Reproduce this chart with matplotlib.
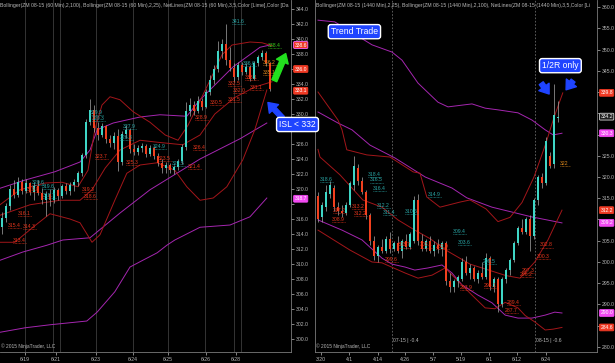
import matplotlib
matplotlib.use('Agg')
import matplotlib.pyplot as plt
from matplotlib.patches import FancyArrowPatch

plt.rcParams['font.family'] = ['Liberation Sans', 'DejaVu Sans']

# ---------------- data: left panel (ZM 08-15, 60 min) ----------------
l_open = [315.0, 316.2, 317.8, 320.0, 319.2, 321.0, 319.8, 320.8, 319.6, 320.4,
          319.5, 318.6, 319.4, 318.5, 319.9, 319.1, 320.4, 319.7, 320.5, 320.9,
          322.1, 324.5, 329.0, 330.6, 328.1, 327.2, 328.4, 326.7, 326.1, 327.1,
          323.6, 327.4, 327.9, 325.3, 325.0, 325.5, 325.8, 324.7, 325.5, 324.4,
          323.5, 322.8, 323.2, 322.5, 322.9, 323.7, 325.6, 330.4, 331.2, 330.4,
          331.8, 331.0, 332.9, 334.6, 336.0, 338.4, 339.4, 337.2, 336.2, 334.9,
          336.5, 335.6, 336.3, 334.7, 336.8, 337.6, 338.2, 336.8]
l_high = [317.0, 318.2, 320.6, 321.2, 321.6, 321.4, 321.3, 321.0, 320.9, 321.2,
          320.2, 319.8, 320.0, 320.3, 320.2, 320.7, 320.8, 320.9, 321.4, 322.4,
          324.8, 329.4, 332.0, 331.2, 328.9, 328.8, 328.6, 327.2, 327.6, 328.0,
          327.8, 328.6, 328.2, 326.0, 325.9, 326.2, 326.0, 325.9, 325.7, 324.8,
          324.0, 323.6, 323.5, 323.2, 324.0, 326.0, 331.6, 332.2, 331.7, 332.4,
          332.1, 333.4, 335.2, 336.6, 339.8, 340.0, 342.0, 339.0, 336.8, 336.9,
          337.0, 336.8, 336.5, 337.1, 337.9, 338.6, 338.4, 337.0]
l_low = [314.0, 315.6, 317.2, 318.8, 318.9, 319.4, 319.5, 319.2, 318.6, 319.2,
         318.0, 316.4, 317.8, 318.2, 318.6, 318.8, 319.3, 319.2, 319.8, 320.4,
         321.8, 324.1, 328.5, 327.6, 326.6, 326.9, 326.2, 325.6, 325.4, 322.4,
         323.2, 326.8, 324.8, 324.6, 324.5, 325.0, 324.3, 324.4, 324.0, 323.1,
         322.2, 322.1, 322.1, 322.0, 322.5, 323.4, 325.2, 329.8, 329.9, 330.1,
         330.6, 330.8, 332.5, 334.0, 335.6, 337.5, 336.6, 335.8, 334.3, 334.6,
         335.2, 335.3, 334.4, 334.5, 336.4, 337.2, 336.4, 333.1]
l_close = [316.2, 317.8, 320.0, 319.2, 321.0, 319.8, 320.8, 319.6, 320.4, 319.5,
           318.6, 319.4, 318.5, 319.9, 319.1, 320.4, 319.7, 320.5, 320.9, 322.1,
           324.5, 329.0, 330.6, 328.1, 327.2, 328.4, 326.7, 326.1, 327.1, 323.6,
           327.4, 327.9, 325.3, 325.0, 325.5, 325.8, 324.7, 325.5, 324.4, 323.5,
           322.8, 323.2, 322.5, 322.9, 323.7, 325.6, 330.4, 331.2, 330.4, 331.8,
           331.0, 332.9, 334.6, 336.0, 338.4, 339.4, 337.2, 336.2, 334.9, 336.5,
           335.6, 336.3, 334.7, 336.8, 337.6, 338.2, 336.8, 333.4]

# Bollinger bands: (bar, price) samples
l_bb25_up = [(-0.5, 317.9), (4.5, 319.9), (10.8, 320.8), (15, 320.9), (19, 320.3),
             (21.5, 322.5), (23.2, 327.9), (25, 331.2), (27, 332.3), (29.5, 331.9),
             (32.8, 330.3), (37, 328.9), (40.8, 327.2), (44, 326.5), (46.5, 328.5),
             (49, 331.2), (52, 334.5), (55, 337.9), (57.5, 339.2), (62, 339.6),
             (65, 339.5), (67.5, 339.1)]
l_bb25_mid = [(-0.5, 316.5), (7, 317.9), (14.5, 318.5), (19.5, 318.5), (22.5, 319.9),
              (25.8, 322.8), (29.5, 325.2), (34.5, 326.5), (39.5, 326.2), (45.2, 325.9),
              (49.5, 327.2), (53.2, 330.0), (58.2, 332.2), (63.2, 333.6), (67.5, 334.3)]
l_bb25_low = [(-0.5, 312.9), (3.2, 312.9), (8.2, 315.1), (12, 316.7), (17, 316.0),
              (19.5, 315.5), (22.5, 312.9), (24.5, 313.9), (28.2, 318.5), (31.2, 322.1),
              (34.5, 323.2), (38.8, 323.5), (43.2, 322.5), (46.2, 320.3), (49.5, 318.5),
              (52.8, 318.8), (56.2, 320.3), (60.2, 323.9), (63.2, 327.9), (66.2, 333.2)]
l_bb100_up = [(-0.5, 320.1), (5.8, 321.2), (13.2, 322.3), (19.5, 323.6), (22, 325.2),
              (23.8, 327.9), (27.8, 328.8), (34.5, 329.6), (39.5, 329.9), (46.2, 329.7),
              (49.5, 331.9), (57.8, 336.3), (64.5, 338.9), (67, 339.2)]
l_bb100_mid = [(-0.5, 310.5), (5.2, 311.6), (11.2, 312.5), (15.2, 313.2), (22, 313.5),
               (29.5, 316.8), (37, 319.9), (49.5, 324.0), (59.5, 326.7), (66.2, 328.8)]
l_bb100_low = [(-0.5, 300.9), (5.8, 301.5), (12, 301.9), (21.2, 302.4), (23.8, 303.6),
               (28.2, 306.3), (32, 309.6), (35.2, 310.5), (38.8, 311.5), (41.2, 312.5),
               (43.2, 313.2), (49.5, 314.9), (57, 315.2), (62, 316.3), (66.2, 318.8)]

l_ticks = [5.75, 13.5, 23.5, 32.75, 41.5, 51, 58.5]
l_ticklabels = ['6/19', '6/21', '6/23', '6/24', '6/25', '6/26', '6/28']
l_sessions = [5.75, 12.75, 14.5, 23.5, 32.75, 41.5, 50.75, 58, 59.75]
l_hidden_prices = [336, 328, 318]

# net line labels: (bar, price, text)
l_cyan_labels = [(57.5, 342.3, '341.6'), (60.2, 336.8, '336.6'), (30.2, 328.3, '327.9'),
                 (29.5, 326.9, '326.3'), (37.8, 325.7, '324.9'), (42.5, 323.4, '322.5'),
                 (7.5, 320.9, '320.6'), (10, 320.3, '319.6'), (10.2, 319.2, '318.7'),
                 (22, 330.2, '329.9'), (22.5, 329.4, '329.3')]
l_red_labels = [(23.2, 324.3, '323.7'), (48.2, 329.5, '328.9'), (56.5, 332.0, '331.5'),
                (52, 331.5, '330.5'), (56.5, 334.1, '332.5'), (57.8, 333.2, '332.0'),
                (60.8, 334.9, '333.1'), (62, 333.5, '331.1'), (31, 323.5, '325.3'),
                (39, 324.1, '323.5'), (47.8, 325.6, '326.4'), (46.5, 323.0, '321.4'),
                (20, 320.0, '319.3'), (20.5, 319.0, '318.6'), (6.2, 319.9, '319.8'),
                (4, 316.8, '316.1'), (1.5, 315.1, '315.4'), (5.2, 315.0, '314.3'),
                (2.8, 313.2, '313.4')]
l_orange_labels = [(65.2, 336.9, '336.2'), (65.2, 335.6, '335.1')]
l_lime_labels = [(66.5, 339.1, '338.4')]

# axis price markers: (price, text, fill, edge)
l_markers = [(339.2, '338.6', '#f03a24', '#ff66ff'), (336.0, '336.0', '#f03a24', '#f03a24'),
             (333.1, '333.1', '#f03a24', '#f03a24'), (318.7, '318.7', '#f24af2', '#f24af2')]

# ---------------- data: right panel (ZM 08-15, daily) ----------------
r_open = [315.5, 310.5, 313.0, 316.0, 317.5, 313.0, 312.0, 311.5, 313.5, 318.0,
          322.0, 319.0, 316.5, 311.0, 305.0, 301.5, 303.5, 302.5, 305.5, 303.0,
          304.5, 302.5, 305.0, 303.5, 305.0, 314.5, 305.0, 303.0, 305.0, 302.5,
          304.0, 303.0, 304.5, 295.5, 294.0, 295.5, 296.0, 300.0, 297.5, 298.5,
          296.0, 297.5, 296.5, 301.0, 294.0, 296.0, 290.0, 296.0, 298.0, 300.5,
          304.5, 308.0, 307.0, 310.0, 306.0, 314.5, 320.0, 318.5, 325.0, 323.0,
          334.0]
r_high = [316.5, 314.0, 318.0, 319.0, 318.0, 314.0, 313.5, 314.0, 319.0, 325.0,
          323.0, 320.0, 317.0, 311.5, 306.0, 304.0, 305.5, 306.0, 307.0, 305.0,
          306.0, 305.5, 306.5, 307.0, 315.5, 316.0, 306.5, 305.5, 306.0, 305.0,
          305.5, 305.0, 305.0, 297.5, 296.0, 297.0, 301.0, 301.5, 299.5, 299.0,
          298.0, 300.0, 302.0, 301.5, 296.5, 296.5, 296.5, 298.5, 301.0, 305.0,
          308.5, 310.0, 310.5, 311.0, 315.0, 320.5, 321.0, 329.5, 326.0, 342.0,
          338.0]
r_low = [309.5, 309.5, 312.0, 315.0, 312.0, 311.0, 310.5, 311.0, 313.0, 317.0,
         318.0, 316.0, 310.0, 304.0, 300.5, 300.0, 302.0, 302.0, 302.0, 302.5,
         302.0, 301.0, 303.0, 303.0, 304.5, 304.0, 302.5, 302.5, 302.0, 301.5,
         302.0, 301.5, 294.5, 293.0, 293.0, 294.0, 295.5, 297.0, 296.0, 295.5,
         295.0, 296.0, 296.0, 293.5, 293.0, 288.2, 289.5, 295.0, 297.0, 300.0,
         304.0, 306.5, 306.5, 302.5, 305.5, 313.5, 317.5, 318.0, 322.0, 322.0,
         333.0]
r_close = [310.0, 313.5, 316.5, 318.0, 313.0, 312.0, 311.5, 313.5, 318.5, 322.5,
           319.0, 316.5, 311.0, 305.0, 301.5, 303.5, 302.5, 305.5, 303.0, 304.5,
           302.5, 305.0, 303.5, 306.5, 314.5, 305.0, 303.0, 305.0, 302.5, 304.0,
           303.0, 304.5, 295.5, 294.0, 295.5, 296.5, 300.0, 297.5, 298.5, 296.0,
           297.5, 296.5, 301.0, 294.0, 296.0, 290.0, 296.0, 298.0, 300.5, 304.5,
           308.0, 307.0, 310.0, 306.0, 314.5, 320.0, 318.5, 328.5, 322.5, 334.5,
           334.2]

r_bb25_up = [(0, 340.0), (5, 333.4), (6, 331.1), (7.2, 326.4), (12.2, 325.2), (18, 324.7),
             (23.8, 321.2), (25.5, 320.9), (27.2, 315.3), (30.5, 312.9), (35.5, 314.1),
             (38, 314.6), (42, 312.5), (45, 309.5), (48, 310.5), (51, 314.0), (54, 320.0),
             (57, 328.0), (59, 334.0), (61.2, 339.8)]
r_bb25_mid = [(0, 326.5), (0.5, 324.7), (5.5, 320.5), (11.2, 314.6), (16, 312.9), (20, 309.9),
              (24.2, 307.5), (28, 305.5), (32.5, 302.5), (38, 299.5), (43, 298.0),
              (47, 296.8), (50.5, 296.2), (54.2, 300.0), (57.5, 305.2), (61, 312.2)]
r_bb25_low = [(0, 307.5), (8, 302.8), (13.5, 300.0), (16, 299.8), (21.8, 297.4),
              (25, 296.2), (28.5, 296.9), (31.8, 298.6), (35, 295.5), (38.5, 292.2),
              (41.8, 289.2), (44.2, 289.0), (46.8, 290.5), (50, 289.2), (51.8, 287.4),
              (54.2, 285.9), (56.8, 284.0), (58.8, 284.2), (61, 284.6)]
r_bb100_up = [(0, 356.9), (4.2, 356.5), (13.5, 351.1), (18.5, 349.4), (21, 347.5),
              (25, 342.1), (30, 337.6), (32.5, 336.5), (38.5, 337.2), (41.8, 336.2),
              (45, 335.8), (50, 335.1), (53.5, 333.4), (56.8, 331.1), (58.8, 329.9),
              (61, 330.3)]
r_bb100_mid = [(0, 335.3), (5, 332.7), (8.5, 331.1), (13, 327.5), (19.2, 324.5),
               (26.8, 320.0), (33.5, 317.4), (37.2, 315.1), (43.5, 312.9), (53.5, 310.6),
               (61, 309.2)]
r_bb100_low = [(0, 309.9), (6, 307.5), (11, 305.2), (16, 300.9), (18.5, 299.5),
               (21.8, 298.8), (24.2, 298.1), (27.5, 298.6), (31, 299.3), (33.5, 297.4),
               (36, 294.6), (40, 292.2), (43.5, 290.4), (46.8, 287.5), (50, 286.8),
               (53.5, 286.8), (56.8, 287.5), (59.2, 288.2), (61, 288.0)]

r_ticks = [0.75, 7.75, 15, 21.75, 28.75, 35.75, 42.75, 49.75, 57]
r_ticklabels = ['3/20', '4/1', '4/14', '4/26', '5/7', '5/19', '6/1', '6/12', '6/24']
r_rollover = [18.5, 54.25]
r_rollover_text = ['07-15 | -0.4', '08-15 | -0.6']
r_hidden_prices = [340, 335, 330, 310, 285]

r_cyan_labels = [(0.5, 319.5, '318.6'), (12.5, 320.5, '318.4'), (13, 319.3, '316.5'),
                 (13.8, 317.4, '316.4'), (14.8, 313.4, '312.2'), (16.2, 311.6, '311.4'),
                 (27.5, 315.8, '314.9'), (21.8, 311.8, '310.6'), (33.8, 307.1, '309.4'),
                 (35, 304.5, '303.6'), (41.2, 300.2, '299.5')]
r_red_labels = [(3.8, 312.2, '317.2'), (8.5, 313.0, '313.2'), (9, 311.5, '312.2'),
                (3.5, 309.9, '308.9'), (20, 304.0, '303.7'), (25.5, 304.0, '303.1'),
                (29.5, 303.7, '302.9'), (16.8, 300.5, '299.6'), (35.5, 293.9, '293.9'),
                (41.5, 294.5, '294.1'), (47.2, 290.4, '289.4'), (46.8, 288.5, '287.7'),
                (51, 298.1, '297.3'), (50.5, 297.0, '296.2'), (55.5, 304.0, '302.8'),
                (54.8, 301.2, '300.3')]
r_orange_labels = [(60.5, 323.1, '322')]

r_markers = [(339.8, '339.8', '#f03a24', '#f03a24'), (334.2, '334.2', '#202020', '#d0d0d0'),
             (330.3, '330.3', '#f24af2', '#f24af2'), (312.2, '312.2', '#f03a24', '#f03a24'),
             (309.2, '309.2', '#f24af2', '#f24af2'), (288.0, '290.0', '#f24af2', '#f24af2'),
             (284.6, '284.6', '#f03a24', '#f03a24')]

# ---------------- styles ----------------
BG = '#000000'
UP = '#3fd6c6'
DOWN = '#f2401e'
RED_BAND = '#a3161a'
PURPLE = '#a526b0'
CYAN_TXT = '#2aa8a8'
RED_TXT = '#e8361c'
GRID = '#3c3c3c'
AX_TXT = '#b8b8b8'
BLUE = '#1f44ff'


def candles(ax, o, h, l, c, width):
    for i in range(len(o)):
        if abs(c[i] - o[i]) < 0.05:
            col = '#c0c0c0'
        else:
            col = UP if c[i] > o[i] else DOWN
        ax.vlines(i, l[i], h[i], color='#a8a8a8', lw=0.5, zorder=3)
        ax.bar(i, max(abs(c[i] - o[i]), 0.12), bottom=min(o[i], c[i]), width=width,
               color=col, edgecolor='none', zorder=4)


def band(ax, pts, color):
    ax.plot([p[0] for p in pts], [p[1] for p in pts], color=color, lw=0.7, zorder=2)


def netlabels(ax, labels, color, du, w):
    for x, y, s in labels:
        ax.text(x, y, s, color=color, fontsize=3.7, ha='left', va='center', zorder=6)
        ax.hlines(y - du, x, x + w, colors=color, linestyles=(0, (1, 1)), lw=0.5, zorder=6)


def markers(ax, items):
    tr = ax.get_yaxis_transform()
    for y, s, fc, ec in items:
        ax.text(1.012, y, s, transform=tr, fontsize=3.6, color='white', ha='left', va='center',
                zorder=10, clip_on=False,
                bbox=dict(boxstyle='round,pad=0.18', fc=fc, ec=ec, lw=0.6))


def style_axes(ax, xlim, ylim, yticks, hidden, xticks, xticklabels):
    ax.set_facecolor(BG)
    ax.set_xlim(*xlim)
    ax.set_ylim(*ylim)
    ax.yaxis.tick_right()
    ax.set_yticks(yticks)
    ax.set_yticklabels(['' if v in hidden else '%.1f' % v for v in yticks])
    ax.set_xticks(xticks)
    ax.set_xticklabels(xticklabels)
    ax.tick_params(colors=AX_TXT, labelsize=3.7, length=2, width=0.5, pad=1.5)
    for sp in ax.spines.values():
        sp.set_color('#7a7a7a')
        sp.set_linewidth(0.6)
    ax.spines['top'].set_visible(False)


fig = plt.figure(figsize=(6.15, 3.63), dpi=100, facecolor=BG)

# ---------------- left panel ----------------
axl = fig.add_axes([0.0, 0.0303, 0.4732, 0.9697])
style_axes(axl, (-0.5, 72.25), (298.27, 345.2), list(range(300, 345, 2)), l_hidden_prices,
           l_ticks, l_ticklabels)
axl.spines['left'].set_visible(False)
for x in l_sessions:
    axl.axvline(x, color=GRID, lw=0.6, zorder=1)
for pts in (l_bb100_up, l_bb100_mid, l_bb100_low):
    band(axl, pts, PURPLE)
for pts in (l_bb25_up, l_bb25_mid, l_bb25_low):
    band(axl, pts, RED_BAND)
candles(axl, l_open, l_high, l_low, l_close, 0.55)
netlabels(axl, l_cyan_labels, CYAN_TXT, 0.35, 3.2)
netlabels(axl, l_red_labels, RED_TXT, 0.35, 3.2)
netlabels(axl, l_orange_labels, '#e08a1c', 0.35, 3.2)
netlabels(axl, l_lime_labels, '#39d01a', 0.35, 3.2)
markers(axl, l_markers)
axl.text(0.0, 0.992, 'Bollinger(ZM 08-15 (60 Min),2,100), Bollinger(ZM 08-15 (60 Min),2,25), '
         'NetLines(ZM 08-15 (60 Min),3,5,Color [Lime],Color [Da',
         transform=axl.transAxes, fontsize=3.7, color=AX_TXT, ha='left', va='top', zorder=8)
axl.text(0.003, 0.008, '\u00a9 2015 NinjaTrader, LLC', transform=axl.transAxes,
         fontsize=3.5, color=AX_TXT, ha='left', va='bottom', zorder=8)

axl.add_patch(FancyArrowPatch((70.6, 329.2), (66.0, 331.8), mutation_scale=7,
                              arrowstyle='simple,head_length=0.9,head_width=1.3,tail_width=0.5',
                              color=BLUE, zorder=9, clip_on=False))
axl.add_patch(FancyArrowPatch((67.8, 334.1), (71.2, 338.4), mutation_scale=7,
                              arrowstyle='simple,head_length=0.9,head_width=1.3,tail_width=0.55',
                              color='#22e01e', zorder=9, clip_on=False))

# ---------------- right panel ----------------
axr = fig.add_axes([0.5122, 0.0303, 0.4585, 0.9697])
style_axes(axr, (-0.75, 69.75), (278.82, 361.65), list(range(280, 361, 5)), r_hidden_prices,
           r_ticks, r_ticklabels)
for x, s in zip(r_rollover, r_rollover_text):
    axr.axvline(x, color='#6a6a6a', lw=0.6, ls=(0, (2, 2)), zorder=1)
    axr.text(x + 0.3, 281.6, s, fontsize=3.6, color=AX_TXT, ha='left', va='center', zorder=8)
for pts in (r_bb100_up, r_bb100_mid, r_bb100_low):
    band(axr, pts, PURPLE)
for pts in (r_bb25_up, r_bb25_mid, r_bb25_low):
    band(axr, pts, RED_BAND)
candles(axr, r_open, r_high, r_low, r_close, 0.7)
netlabels(axr, r_cyan_labels, CYAN_TXT, 0.6, 3.2)
netlabels(axr, r_red_labels, RED_TXT, 0.6, 3.2)
netlabels(axr, r_orange_labels, '#e08a1c', 0.6, 2.4)
markers(axr, r_markers)
axr.text(0.002, 0.992, 'Bollinger(ZM 08-15 (1440 Min),2,25), Bollinger(ZM 08-15 (1440 Min),2,100), '
         'NetLines(ZM 08-15 (1440 Min),3,5,Color [Li',
         transform=axr.transAxes, fontsize=3.7, color=AX_TXT, ha='left', va='top', zorder=8)
axr.text(0.003, 0.008, '\u00a9 2015 NinjaTrader, LLC', transform=axr.transAxes,
         fontsize=3.5, color=AX_TXT, ha='left', va='bottom', zorder=8)

box = dict(boxstyle='round,pad=0.3', fc=BLUE, ec='white', lw=1.0)
axr.text(9.1, 354.2, 'Trend Trade', fontsize=6.2, color='white', ha='center', va='center',
         zorder=10, bbox=box)
axr.text(60.6, 346.2, '1/2R only', fontsize=6.2, color='white', ha='center', va='center',
         zorder=10, bbox=box)
axr.add_patch(FancyArrowPatch((55.4, 342.6), (58.2, 339.0), mutation_scale=7,
                              arrowstyle='simple,head_length=0.9,head_width=1.3,tail_width=0.5',
                              color=BLUE, zorder=9))
axr.add_patch(FancyArrowPatch((64.2, 343.2), (61.6, 340.0), mutation_scale=7,
                              arrowstyle='simple,head_length=0.9,head_width=1.3,tail_width=0.5',
                              color=BLUE, zorder=9))

fig.text(297.5 / 615, 1 - 124.5 / 363, 'ISL < 332', fontsize=6.2, color='white',
         ha='center', va='center', zorder=20, bbox=box)

fig.savefig('out.png', dpi=100, facecolor=BG)
